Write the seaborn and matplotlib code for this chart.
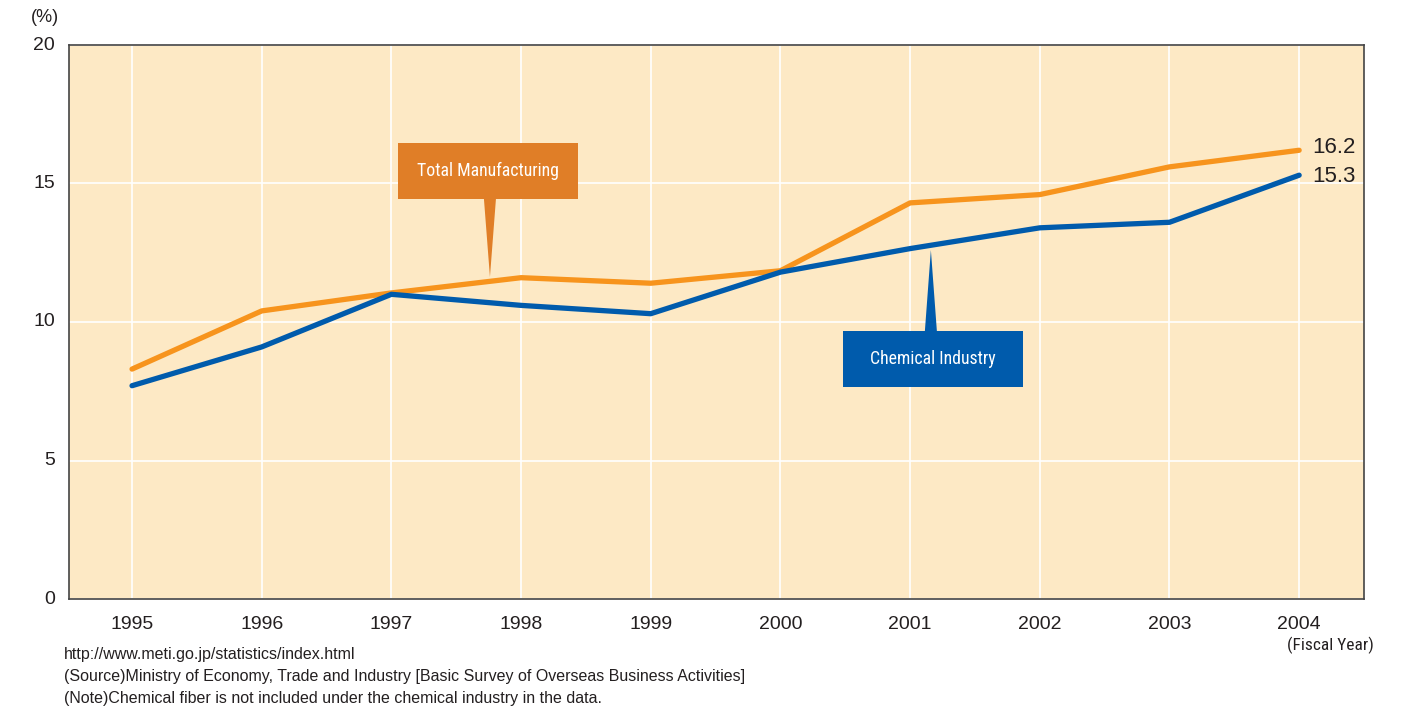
import matplotlib
matplotlib.use("Agg")
import matplotlib.pyplot as plt
from matplotlib.patches import Polygon, Rectangle
import seaborn as sns
import pandas as pd
from matplotlib import font_manager

years = ["1995", "1996", "1997", "1998", "1999", "2000", "2001", "2002", "2003", "2004"]
total_manufacturing = [8.3, 10.4, 11.05, 11.6, 11.4, 11.85, 14.3, 14.6, 15.6, 16.2]
chemical_industry = [7.7, 9.1, 11.0, 10.6, 10.3, 11.8, 12.65, 13.4, 13.6, 15.3]
series_names = ["Total Manufacturing", "Chemical Industry"]
y_ticks = [0, 5, 10, 15, 20]
notes = [
    "http://www.meti.go.jp/statistics/index.html",
    "(Source)Ministry of Economy, Trade and Industry [Basic Survey of Overseas Business Activities]",
    "(Note)Chemical fiber is not included under the chemical industry in the data.",
]

ORANGE = "#F7941D"
ORANGE_BOX = "#E07E27"
BLUE = "#005BAC"
BG = "#FDE9C5"
TEXT = "#231F20"

sns.set_theme(style="white")
plt.rcParams["font.family"] = ["Liberation Sans", "DejaVu Sans"]
names = {f.name for f in font_manager.fontManager.ttflist}
narrow_choices = [n for n in ["Roboto Condensed", "Liberation Sans Narrow", "Open Sans Condensed"]
                  if n in names]
if narrow_choices:
    narrow, narrow_size = narrow_choices[0], 12.8
else:
    narrow, narrow_size = "Roboto", 11.8

df = pd.DataFrame({
    "x": list(range(len(years))) * 2,
    "value": total_manufacturing + chemical_industry,
    "series": [series_names[0]] * len(years) + [series_names[1]] * len(years),
})

fig = plt.figure(figsize=(14.07, 7.11), dpi=100)
ax = fig.add_axes([69 / 1407, 1 - 599 / 711, (1364 - 69) / 1407, (599 - 45) / 711])
ax.set_facecolor(BG)

sns.lineplot(data=df, x="x", y="value", hue="series",
             palette={series_names[0]: ORANGE, series_names[1]: BLUE},
             linewidth=3.8, legend=False, ax=ax, zorder=3,
             solid_capstyle="round", solid_joinstyle="round")

ax.set_xlim(-0.486, 9.5)
ax.set_ylim(0, 20)
ax.set_xticks(range(len(years)))
ax.set_xticklabels(years)
ax.set_yticks(y_ticks)
ax.set_yticklabels([str(v) for v in y_ticks])
ax.set_xlabel("")
ax.set_ylabel("")
ax.tick_params(axis="both", length=0, labelsize=14, colors=TEXT)
ax.tick_params(axis="x", pad=12)
ax.tick_params(axis="y", pad=10)
for lab in ax.get_yticklabels():
    lab.set_verticalalignment("center")

ax.grid(True, color="white", linewidth=1.2, zorder=0)
ax.set_axisbelow(True)
for s in ax.spines.values():
    s.set_color("#444444")
    s.set_linewidth(1.2)

# end-of-series values
ax.text(9.1, total_manufacturing[-1] + 0.1, f"{total_manufacturing[-1]}", fontsize=16,
        color=TEXT, va="center", ha="left")
ax.text(9.1, chemical_industry[-1] - 0.05, f"{chemical_industry[-1]}", fontsize=16,
        color=TEXT, va="center", ha="left")


def px_x(px):
    return -0.486 + (px - 69) / 129.7


def px_y(py):
    return (599 - py) / 27.7


def callout(x0, x1, y0, y1, tip, base_x, base_w, color, label, base_y):
    ax.add_patch(Rectangle((x0, y0), x1 - x0, y1 - y0, facecolor=color,
                           edgecolor="none", zorder=5))
    ax.add_patch(Polygon([(base_x - base_w / 2, base_y), (base_x + base_w / 2, base_y), tip],
                         closed=True, facecolor=color, edgecolor="none", zorder=5))
    ax.text((x0 + x1) / 2, (y0 + y1) / 2, label, color="white", fontsize=narrow_size,
            family=narrow, ha="center", va="center", zorder=6)


# Total Manufacturing callout
callout(px_x(398), px_x(578), px_y(199), px_y(143), (px_x(490), px_y(277)),
        px_x(490), 12 / 129.7, ORANGE_BOX, series_names[0], px_y(199))
# Chemical Industry callout
callout(px_x(843), px_x(1023), px_y(387), px_y(331), (px_x(931), px_y(250)),
        px_x(931), 12 / 129.7, BLUE, series_names[1], px_y(331))

fig.text(45 / 1407, 1 - 18 / 711, "(%)", fontsize=13, color=TEXT, ha="center", va="center")
fig.text(1330 / 1407, 1 - 645 / 711, "(Fiscal Year)", fontsize=12.5, family=narrow,
         color=TEXT, ha="center", va="center")
for i, line in enumerate(notes):
    fig.text(64 / 1407, 1 - (654 + i * 22) / 711, line, fontsize=11.5, color=TEXT,
             ha="left", va="center")

fig.savefig("out.png", dpi=100, facecolor="white")
